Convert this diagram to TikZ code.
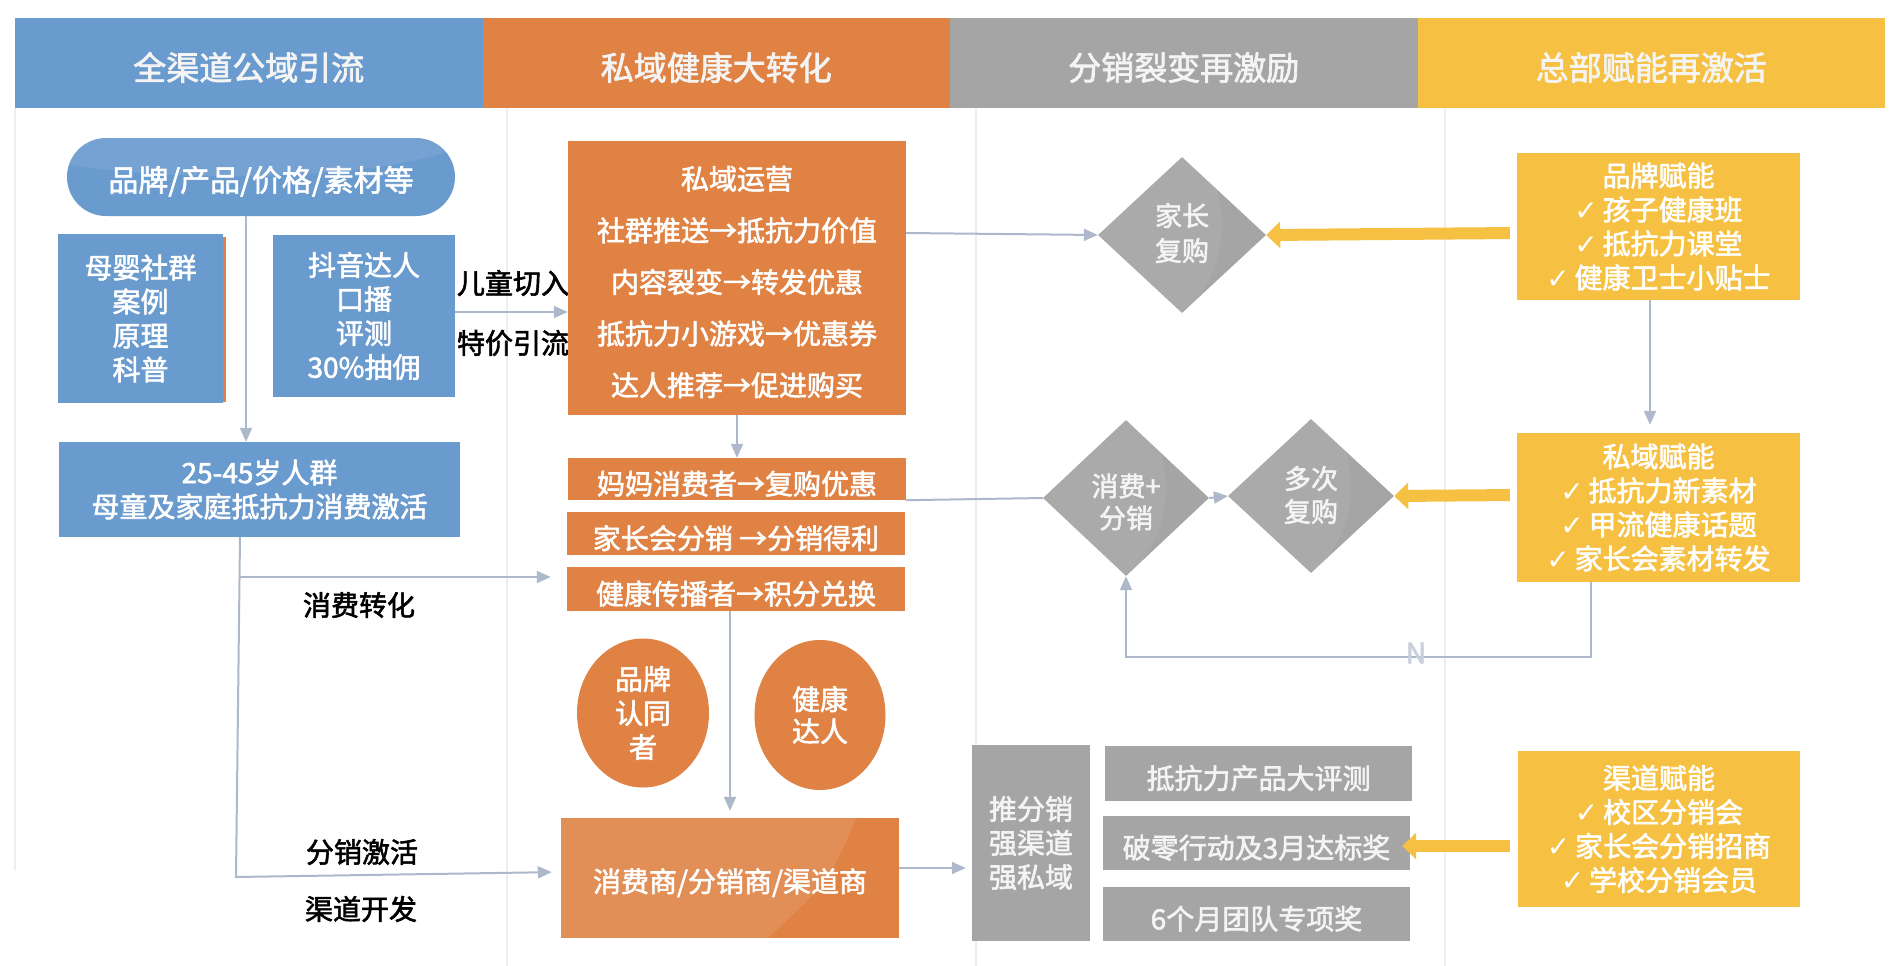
\documentclass[tikz,border=0pt]{standalone}
\usepackage{fontspec}
\setmainfont{Noto Sans CJK SC}[FakeBold=2]
\newfontfamily\djv{DejaVu Sans}
\usetikzlibrary{arrows.meta,shapes.geometric}
\definecolor{cblue}{HTML}{6A9BCF}
\definecolor{corange}{HTML}{DF8244}
\definecolor{cgray}{HTML}{A5A5A5}
\definecolor{cyellow}{HTML}{F6C143}
\definecolor{cline}{HTML}{ADB9CA}
\definecolor{csep}{HTML}{EEEEEE}
\definecolor{ctxt}{HTML}{F4F4F4}
\definecolor{cn}{HTML}{C9D0DB}
\newcommand\ck{{\djv ✓}\,}
\tikzset{
  conn/.style={draw=cline, line width=2pt},
  tipa/.style={-{Triangle[length=14pt,width=12pt]}},
  yarr/.style={draw=cyellow, line width=12pt, -{Triangle[length=14pt,width=26pt]}},
  dn/.style={execute at begin node={\rule{0pt}{#1}}},
  bx/.style={inner sep=0pt, align=center, text=white, dn=33pt},
  fa/.style={font=\fontsize{28pt}{34pt}\selectfont},
  fb/.style={font=\fontsize{28pt}{51.6pt}\selectfont},
  hdr/.style={inner sep=0pt, text=ctxt, minimum width=467.5pt, minimum height=90pt, font=\fontsize{33pt}{40pt}\selectfont, dn=37pt},
  lbl/.style={inner sep=0pt, text=black, font=\fontsize{28pt}{34pt}\selectfont},
  sepl/.style={draw=csep, line width=2pt},
  dia/.style={diamond, fill=cgray, inner sep=0pt, align=center, text=ctxt, font=\fontsize{27pt}{34pt}\selectfont},
}
\begin{document}
\begin{tikzpicture}[x=1pt,y=-1pt]
\fill[white] (0,0) rectangle (1904,966);
\useasboundingbox (0,0) rectangle (1904,966);
% separators
\draw[sepl] (15,108) -- (15,871);
\draw[sepl] (507,108) -- (507,966);
\draw[sepl] (976,108) -- (976,966);
\draw[sepl] (1445,108) -- (1445,966);
% headers
\node[hdr, fill=cblue] (h1) at (248.75,63) {全渠道公域引流};
\node[hdr, fill=corange] (h2) at (716.25,63) {私域健康大转化};
\node[hdr, fill=cgray] (h3) at (1183.75,63) {分销裂变再激励};
\node[hdr, fill=cyellow] (h4) at (1651.25,63) {总部赋能再激活};
% column 1
\node[bx, fill=cblue, rounded corners=39pt, minimum width=388pt, minimum height=78pt, font=\fontsize{30pt}{36pt}\selectfont, dn=34pt] (pill) at (261,177) {品牌/产品/价格/素材等};
\begin{scope}
\clip[rounded corners=39pt] (pill.south west) rectangle (pill.north east);
\fill[white, opacity=0.08] (230,128) ellipse [x radius=250, y radius=48];
\end{scope}
\node[bx, fa, fill=cblue, minimum width=165pt, minimum height=169pt] (b1) at (140.5,318.5) {母婴社群\\案例\\原理\\科普};
\draw[draw=corange, line width=2.5pt] (b1.north east) ++(1.5,3) -- ++(0,165);
\node[bx, fa, fill=cblue, minimum width=182pt, minimum height=162pt] (b2) at (364,316) {抖音达人\\口播\\评测\\30\%抽佣};
\node[bx, fa, fill=cblue, minimum width=401pt, minimum height=95pt] (b3) at (259.5,489.5) {25-45岁人群\\母童及家庭抵抗力消费激活};
\node[lbl] (l1) at (513,283) {儿童切入};
\node[lbl] (l2) at (513,343) {特价引流};
\node[lbl] (l3) at (359,605) {消费转化};
\node[lbl] (l4) at (362,852) {分销激活};
\node[lbl] (l5) at (361,909) {渠道开发};
% column 2
\node[bx, fill=corange, minimum width=338pt, minimum height=274pt] (o1) at (737,278) {};
\node[bx, fb] (o1t) at (737,282) {私域运营\\社群推送→抵抗力价值\\内容裂变→转发优惠\\抵抗力小游戏→优惠券\\达人推荐→促进购买};
\node[bx, fa, fill=corange, minimum width=338pt, minimum height=42pt] (o2) at (737,479) {妈妈消费者→复购优惠};
\node[bx, fa, fill=corange, minimum width=338pt, minimum height=43pt] (o3) at (736,533.5) {家长会分销 →分销得利};
\node[bx, fa, fill=corange, minimum width=338pt, minimum height=44pt] (o4) at (736,589) {健康传播者→积分兑换};
\node[bx, fa, ellipse, fill=corange, minimum width=132pt, minimum height=149pt] (e1) at (643,713) {品牌\\认同\\者};
\node[bx, fa, ellipse, fill=corange, minimum width=131pt, minimum height=150pt, font=\fontsize{28pt}{32pt}\selectfont] (e2) at (820,715) {健康\\达人};
\fill[corange] (561,818) rectangle (899,938);
\fill[white, opacity=0.1] (561,818) -- (856,818) .. controls (830,880) .. (768,938) -- (561,938) -- cycle;
\node[bx, fa, minimum width=338pt, minimum height=120pt] (o5) at (730,878) {消费商/分销商/渠道商};
% column 3
\node[dia, minimum width=168pt, minimum height=156pt] (d1) at (1182,235) {};
\node[dia, minimum width=166pt, minimum height=156pt] (d2) at (1126,498) {};
\node[dia, minimum width=166pt, minimum height=154pt] (d3) at (1311,496) {};
\foreach \d in {d1,d2,d3}{
  \begin{scope}
  \clip (\d.north) -- (\d.east) -- (\d.south) -- (\d.west) -- cycle;
  \fill[white, opacity=0.06] ([xshift=-30pt,yshift=10pt]\d.center) ellipse [x radius=70, y radius=95];
  \end{scope}
}
\node[dia, fill=none, font=\fontsize{27pt}{35pt}\selectfont] (t1) at ([yshift=2pt]d1.center) {家长\\复购};
\node[dia, fill=none, font=\fontsize{27pt}{32pt}\selectfont] (t2) at ([yshift=-4pt]d2.center) {消费+\\分销};
\node[dia, fill=none, font=\fontsize{27pt}{33pt}\selectfont] (t3) at ([yshift=1pt]d3.center) {多次\\复购};
\node[bx, fa, fill=cgray, text=ctxt, minimum width=118pt, minimum height=196pt] (g1) at (1031,843) {推分销\\强渠道\\强私域};
\node[bx, fa, fill=cgray, text=ctxt, minimum width=307pt, minimum height=55pt] (g2) at (1258.5,773.5) {抵抗力产品大评测};
\node[bx, fa, fill=cgray, text=ctxt, minimum width=307pt, minimum height=54pt] (g3) at (1256.5,843) {破零行动及3月达标奖};
\node[bx, fa, fill=cgray, text=ctxt, minimum width=307pt, minimum height=54pt] (g4) at (1256.5,914) {6个月团队专项奖};
% column 4
\node[bx, fa, fill=cyellow, minimum width=283pt, minimum height=147pt] (y1) at (1658.5,226.5) {品牌赋能\\\ck 孩子健康班\\\ck 抵抗力课堂\\\ck 健康卫士小贴士};
\node[bx, fa, fill=cyellow, minimum width=283pt, minimum height=149pt] (y2) at (1658.5,507.5) {私域赋能\\\ck 抵抗力新素材\\\ck 甲流健康话题\\\ck 家长会素材转发};
\node[bx, fa, fill=cyellow, minimum width=282pt, minimum height=156pt] (y3) at (1659,829) {渠道赋能\\\ck 校区分销会\\\ck 家长会分销招商\\\ck 学校分销会员};
% connectors
\coordinate (j1) at (240,577);
\coordinate (j2) at (236,877);
\coordinate (fb) at (1126,657);
\draw[conn, tipa] ([xshift=-15pt]pill.south) -- ([xshift=-13.5pt]b3.north);
\draw[conn, tipa] ([yshift=4pt]b2.east) -- ([yshift=4pt]b2.east -| o1.west);
\draw[conn, tipa, shorten >=16pt] (j1) -- (j1 -| o4.west);
\draw[conn, tipa, shorten >=9pt] ([xshift=-19.5pt]b3.south) -- (j2) -- ([yshift=6pt]o5.west);
\draw[conn, tipa] (o1.south) -- (o2.north);
\draw[conn, tipa, shorten >=7pt] ([xshift=-6pt]o4.south) -- (o5.north);
\draw[conn, tipa, shorten >=6pt] ([yshift=10pt]o5.east) -- ([yshift=10pt]o5.east -| g1.west);
\draw[conn, tipa] ([yshift=45pt]o1.east) -- (d1.west);
\draw[conn] (o2.south east) -- (d2.west);
\draw[conn, tipa] (d2.east) -- (d3.west);
\draw[conn, tipa, shorten >=8pt] ([xshift=-8.5pt]y1.south) -- ([xshift=-8.5pt]y2.north);
\draw[conn, tipa] ([xshift=-67.5pt]y2.south) |- (fb) -- (d2.south);
\node[inner sep=0pt, text=cn, font=\fontsize{28pt}{32pt}\selectfont] (nl) at (1416,653) {N};
\draw[yarr, shorten <=7pt] ([yshift=-6.5pt]y1.west) -- (d1.east);
\draw[yarr, shorten <=7pt] ([yshift=12.5pt]y2.west) -- (d3.east);
\draw[yarr, shorten <=8pt, shorten >=-8pt] ([yshift=-17pt]y3.west) -- ([yshift=-17pt]y3.west -| g3.east);
\end{tikzpicture}
\end{document}
